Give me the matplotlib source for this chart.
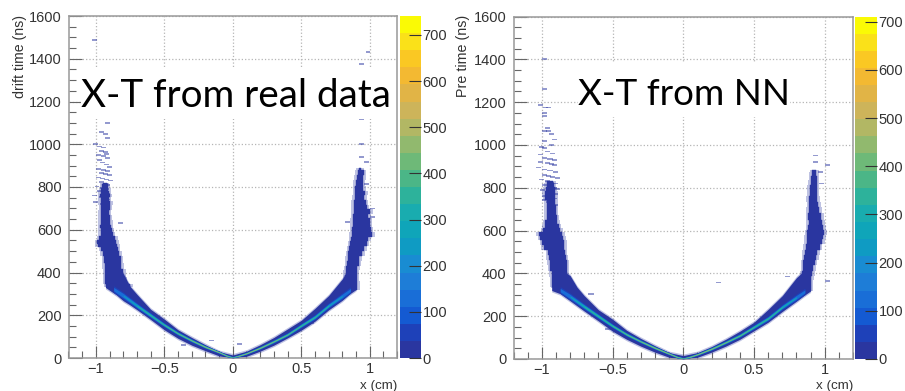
import matplotlib
matplotlib.use('Agg')
import matplotlib.pyplot as plt
from matplotlib.cm import ScalarMappable
from matplotlib.colors import ListedColormap, Normalize
from matplotlib.patches import Rectangle
from matplotlib.ticker import MultipleLocator

W, H = 905, 391

# colour levels, bottom to top
palette = [(42, 54, 160), (30, 65, 185), (20, 90, 210), (25, 110, 215), (30, 125, 215),
           (25, 140, 210), (15, 155, 195), (15, 165, 185), (25, 172, 175), (45, 178, 155),
           (75, 182, 135), (110, 185, 120), (145, 185, 110), (178, 183, 100), (205, 180, 90),
           (225, 180, 70), (243, 185, 50), (250, 200, 35), (250, 225, 25), (250, 250, 5)]
real_zmax = 741
nn_zmax = 711

# thin diagonal part of the V, outer dark envelope
real_env_x = [-0.93, -0.85, -0.8, -0.75, -0.7, -0.6, -0.5, -0.4, -0.3, -0.2, -0.1, 0, 0.1, 0.2, 0.3, 0.4, 0.5, 0.6, 0.7, 0.8, 0.85, 0.9]
real_env_lo = [330, 295, 268, 248, 226, 180, 132, 92, 60, 34, 10, 0, 8, 32, 60, 94, 130, 172, 225, 270, 298, 320]
real_env_hi = [345, 420, 395, 335, 298, 228, 182, 132, 96, 62, 30, 14, 32, 62, 96, 136, 176, 232, 292, 370, 420, 440]
nn_env_x = [-0.93, -0.87, -0.8, -0.75, -0.7, -0.6, -0.5, -0.4, -0.3, -0.2, -0.1, 0, 0.1, 0.2, 0.3, 0.4, 0.5, 0.6, 0.7, 0.8, 0.85, 0.9]
nn_env_lo = [320, 305, 272, 248, 224, 178, 130, 92, 60, 32, 8, 0, 8, 32, 60, 92, 132, 172, 222, 270, 295, 318]
nn_env_hi = [345, 420, 390, 335, 296, 230, 186, 134, 96, 62, 30, 16, 30, 58, 92, 130, 172, 232, 296, 380, 410, 440]

# ridge of the V and the half thickness (ns) of each colour layer around it
ridge_x = [-0.87, -0.8, -0.7, -0.6, -0.5, -0.4, -0.3, -0.2, -0.1, -0.04, 0, 0.04, 0.1, 0.2, 0.3, 0.4, 0.5, 0.6, 0.7, 0.8, 0.86]
real_ridge_y = [322, 292, 245, 200, 155, 115, 82, 52, 27, 10, 4, 10, 22, 48, 78, 110, 152, 192, 245, 290, 318]
nn_ridge_y = [322, 292, 245, 200, 155, 115, 82, 52, 25, 9, 4, 9, 22, 48, 78, 110, 150, 190, 243, 288, 316]
layer_values = [60, 130, 250, 340, 450]
layer_60 = [16, 16, 14, 12, 10, 9, 8, 7, 6, 5, 3, 5, 6, 7, 8, 9, 10, 12, 13, 15, 15]
layer_130 = [8, 10, 9, 8, 7, 6, 6, 5, 4, 4, 2, 4, 4, 5, 6, 6, 7, 8, 8, 9, 7]
layer_250 = [0, 3, 6, 6, 5, 5, 4, 4, 3, 3, 1, 3, 3, 4, 4, 5, 5, 5, 5, 3, 0]
layer_340 = [0, 0, 2, 3, 3, 3, 3, 3, 2, 2, 1, 2, 2, 3, 3, 3, 3, 3, 2, 0, 0]
layer_450 = [0, 0, 0, 0, 0.5, 1, 1.5, 2, 2, 1.5, 0.5, 1.5, 2, 2, 1.5, 1, 0.5, 0, 0, 0, 0]

# tall arms of the V: rows of ns, with left and right edge
real_left_y = [330, 360, 400, 430, 462, 490, 510, 525, 540, 560, 580, 600, 615, 633, 655, 680, 705, 727, 745, 758, 775, 790, 805, 820]
real_left_lo = [-0.925, -0.93, -0.93, -0.935, -0.94, -0.95, -0.96, -0.985, -0.99, -0.975, -0.965, -0.965, -0.97, -0.965, -0.965, -0.965, -0.96, -0.965, -0.965, -0.97, -0.965, -0.96, -0.955, -0.95]
real_left_hi = [-0.75, -0.79, -0.8, -0.815, -0.82, -0.83, -0.84, -0.845, -0.85, -0.86, -0.875, -0.885, -0.89, -0.895, -0.9, -0.905, -0.9, -0.895, -0.905, -0.9, -0.905, -0.91, -0.915, -0.92]
real_right_y = [320, 350, 375, 400, 420, 444, 465, 490, 515, 537, 555, 577, 600, 625, 647, 665, 686, 705, 725, 750, 772, 795, 819, 845, 866, 890]
real_right_lo = [0.8, 0.81, 0.82, 0.826, 0.83, 0.838, 0.84, 0.845, 0.85, 0.858, 0.865, 0.87, 0.872, 0.875, 0.875, 0.88, 0.885, 0.885, 0.885, 0.89, 0.895, 0.895, 0.9, 0.905, 0.912, 0.92]
real_right_hi = [0.91, 0.91, 0.905, 0.908, 0.91, 0.92, 0.925, 0.945, 0.96, 0.98, 0.99, 1.02, 1.01, 1.0, 1.0, 0.99, 1.005, 0.98, 0.97, 0.96, 0.968, 0.955, 0.95, 0.955, 0.956, 0.94]
nn_left_y = [330, 343, 370, 400, 425, 452, 475, 498, 520, 545, 565, 584, 600, 620, 638, 660, 685, 710, 731, 755, 777, 795, 812, 830]
nn_left_lo = [-0.92, -0.925, -0.925, -0.93, -0.94, -0.943, -0.95, -0.955, -0.985, -0.998, -1.01, -1.02, -0.99, -0.98, -0.975, -0.965, -0.965, -0.965, -0.965, -0.975, -0.98, -0.97, -0.965, -0.96]
nn_left_hi = [-0.78, -0.785, -0.81, -0.825, -0.825, -0.825, -0.83, -0.837, -0.84, -0.842, -0.85, -0.856, -0.87, -0.88, -0.89, -0.895, -0.9, -0.9, -0.905, -0.905, -0.905, -0.91, -0.915, -0.92]
nn_right_y = [320, 356, 378, 400, 425, 450, 475, 497, 525, 551, 570, 590, 615, 637, 665, 699, 725, 746, 775, 800, 825, 846, 865, 885]
nn_right_lo = [0.82, 0.849, 0.845, 0.842, 0.848, 0.85, 0.855, 0.858, 0.865, 0.873, 0.875, 0.877, 0.885, 0.889, 0.885, 0.889, 0.89, 0.889, 0.895, 0.896, 0.9, 0.906, 0.91, 0.913]
nn_right_hi = [0.9, 0.9, 0.905, 0.913, 0.92, 0.93, 0.94, 0.948, 0.965, 0.983, 0.99, 0.995, 0.99, 0.983, 0.975, 0.96, 0.955, 0.948, 0.945, 0.943, 0.945, 0.943, 0.94, 0.939]

# isolated short rows, mostly the sparse tails above the arms
real_dash_x = [-1.025, 0.97, 0.92, 0.925, -0.935, -0.98, -0.95, -0.935, -1.02, -0.99, -0.96, -0.98, -0.95, -0.94, -1.0, -0.96, -0.93, -0.99, -0.97, -0.94, -0.92, -1.0, -0.96, -0.93, -0.98, -0.95, -0.92, -1.0, -0.97, -0.94, -0.91, -0.98, -0.95, -0.93, -1.01, -0.97, -0.94, -0.99, -0.95, -0.93, -1.03, -0.98, -0.955, -0.93, -1.02, -0.97, -0.94, -0.84, 0.92, 0.92, 0.96, 0.96, 0.82, 1.0, -0.17, -0.38, 0.03, 0.56, 1.0]
real_dash_y = [1488, 1431, 1375, 1118, 1100, 1057, 1047, 1028, 1002, 990, 985, 970, 965, 955, 950, 945, 935, 925, 915, 905, 895, 885, 880, 875, 865, 860, 855, 845, 840, 835, 830, 822, 815, 810, 803, 795, 790, 782, 775, 770, 760, 752, 748, 742, 730, 722, 715, 633, 1000, 942, 918, 815, 635, 660, 82, 60, 65, 165, 700]
nn_dash_x = [-1.0, -1.0, -1.03, -0.99, -0.97, -1.0, -1.0, -0.98, -0.95, -1.0, -0.97, -0.93, -1.0, -0.95, -1.02, -1.0, -0.98, -0.94, -1.03, -1.0, -0.96, -0.93, -1.03, -0.98, -0.95, -0.93, -1.04, -1.0, -0.96, -0.92, -1.0, -0.97, -0.94, -0.91, -1.02, -0.98, -0.95, -0.92, -1.0, -0.96, -0.93, -0.91, -1.01, -0.98, -0.95, -0.92, -1.0, -0.96, -0.93, -1.0, -0.97, -0.94, -0.92, 0.92, 0.92, 1.0, 0.95, 0.96, 0.91, 0.23, -0.55, 1.0, 0.72, -0.67]
nn_dash_y = [1400, 1260, 1185, 1175, 1175, 1150, 1135, 1080, 1050, 1065, 1065, 1025, 1020, 1000, 990, 985, 970, 960, 955, 940, 935, 930, 920, 915, 910, 905, 895, 885, 880, 872, 860, 855, 850, 845, 838, 830, 825, 820, 812, 806, 800, 795, 788, 782, 776, 770, 762, 755, 750, 742, 735, 728, 720, 950, 920, 905, 875, 820, 790, 358, 140, 365, 385, 305]


def px_rect(x0, y0, x1, y1):
    return [x0 / W, 1 - y1 / H, (x1 - x0) / W, (y1 - y0) / H]


def draw_panel(ax, cax, zmax, env, ridge_y, left, right, dash):
    cmap = ListedColormap([[c / 255 for c in rgb] for rgb in palette])
    norm = Normalize(0, zmax)
    dark = cmap(norm(15))

    # pale fringe first, the reference is soft around the dark area
    ax.fill_between(env[0], [v - 7 for v in env[1]], [v + 7 for v in env[2]], color=dark, alpha=0.3, lw=0, zorder=2)
    for arm in (left, right):
        ax.fill_betweenx(arm[0], [v - 0.018 for v in arm[1]], [v + 0.018 for v in arm[2]], step='mid', color=dark, alpha=0.3, lw=0, zorder=2)
    ax.fill_between(env[0], env[1], env[2], color=dark, lw=0, zorder=2)
    for arm in (left, right):
        ax.fill_betweenx(arm[0], arm[1], arm[2], step='mid', color=dark, lw=0.3, zorder=2)
    ax.barh(dash[1], [0.036] * len(dash[0]), left=dash[0], height=8, color=dark, alpha=0.5, lw=0, zorder=2)

    layers = (layer_60, layer_130, layer_250, layer_340, layer_450)
    for value, half in zip(layer_values, layers):
        lo = [r - h for r, h in zip(ridge_y, half)]
        hi = [r + h for r, h in zip(ridge_y, half)]
        ax.fill_between(ridge_x, lo, hi, where=[h > 0 for h in half], color=cmap(norm(value)), lw=0, zorder=3)

    ax.set_xlim(-1.2, 1.2)
    ax.set_ylim(0, 1600)
    ax.xaxis.set_minor_locator(MultipleLocator(0.1))
    ax.yaxis.set_major_locator(MultipleLocator(200))
    ax.yaxis.set_minor_locator(MultipleLocator(50))
    ax.set_xticks([-1, -0.5, 0, 0.5, 1])
    ax.set_xticklabels(['\u22121', '\u22120.5', '0', '0.5', '1'])
    ax.tick_params(which='major', direction='in', length=9, width=0.8, color='#666666', labelsize=10.5, labelcolor='#333333', pad=5)
    ax.tick_params(axis='x', which='major', pad=3)
    ax.tick_params(which='minor', direction='in', length=5, width=0.8, color='#666666')
    ax.grid(True, which='major', linestyle=':', linewidth=0.9, color='#b5b5b5', zorder=1)
    ax.set_axisbelow(True)
    for s in ax.spines.values():
        s.set_color('#999999')
        s.set_linewidth(1.1)

    cb = plt.colorbar(ScalarMappable(norm=norm, cmap=cmap), cax=cax)
    cb.outline.set_visible(False)
    cb.set_ticks(range(0, 701, 100))
    cax.tick_params(direction='in', length=9, width=0.8, color='#333333', labelsize=10.5, labelcolor='#333333', pad=1)


plt.rcParams['font.family'] = ['Liberation Sans', 'DejaVu Sans']
fig = plt.figure(figsize=(W / 100, H / 100), dpi=100)

ax1 = fig.add_axes(px_rect(68.5, 16, 397, 358))
cax1 = fig.add_axes(px_rect(400, 16, 421, 358))
draw_panel(ax1, cax1, real_zmax, (real_env_x, real_env_lo, real_env_hi), real_ridge_y,
           (real_left_y, real_left_lo, real_left_hi), (real_right_y, real_right_lo, real_right_hi),
           (real_dash_x, real_dash_y))

ax2 = fig.add_axes(px_rect(513.5, 16.5, 853, 359))
cax2 = fig.add_axes(px_rect(855, 16.5, 877, 359))
draw_panel(ax2, cax2, nn_zmax, (nn_env_x, nn_env_lo, nn_env_hi), nn_ridge_y,
           (nn_left_y, nn_left_lo, nn_left_hi), (nn_right_y, nn_right_lo, nn_right_hi),
           (nn_dash_x, nn_dash_y))

# axis titles, in ROOT's corners
fig.text(20 / W, 1 - 15 / H, 'drift time (ns)', rotation=90, ha='center', va='top', fontsize=10.2, color='#333333')
fig.text(463 / W, 1 - 15 / H, 'Pre time (ns)', rotation=90, ha='center', va='top', fontsize=10.3, color='#333333')
fig.text(397 / W, 1 - 388.5 / H, 'x (cm)', ha='right', va='baseline', fontsize=9.6, color='#333333')
fig.text(853 / W, 1 - 389 / H, 'x (cm)', ha='right', va='baseline', fontsize=9.6, color='#333333')

# slide text boxes pasted on top of the plots
for x0, y0, x1, y1 in ((81, 67, 396.3, 119), (578, 62, 790, 117)):
    r = px_rect(x0, y0, x1, y1)
    fig.add_artist(Rectangle((r[0], r[1]), r[2], r[3], transform=fig.transFigure, facecolor='white', edgecolor='none', zorder=5))
fig.text(81 / W, 1 - 107 / H, 'X-T from real data', fontfamily='Lato', fontsize=27.8, color='black', zorder=6)
fig.text(578 / W, 1 - 105 / H, 'X-T from NN', fontfamily='Lato', fontsize=26.6, color='black', zorder=6)

fig.savefig('out.png', dpi=100)
